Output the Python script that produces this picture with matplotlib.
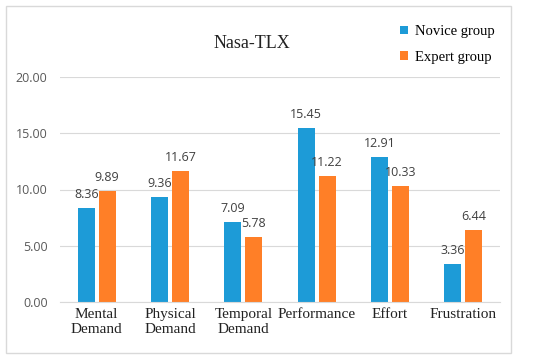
import numpy as np
import matplotlib.pyplot as plt
from matplotlib.patches import Rectangle

categories = ['Mental\nDemand', 'Physical\nDemand', 'Temporal\nDemand',
              'Performance', 'Effort', 'Frustration']
novice = [8.36, 9.36, 7.09, 15.45, 12.91, 3.36]
expert = [9.89, 11.67, 5.78, 11.22, 10.33, 6.44]
yticks = [0, 5, 10, 15, 20]

blue = '#1d9bd7'
orange = '#ff7f27'
serif = 'Liberation Serif'
sans = 'Open Sans'

fig = plt.figure(figsize=(5.5, 3.61), dpi=100)
# outer frame
fig.patches.append(Rectangle((6/550, 1 - 353/361), 505/550, 347/361,
                             transform=fig.transFigure, fill=False,
                             edgecolor='#d9d9d9', linewidth=1))

ax = fig.add_axes([60/550, 1 - 302/361, 440/550, 225/361])
x = np.arange(len(categories))
w = 0.23
gap = 0.055
b1 = ax.bar(x - w/2 - gap/2, novice, w, color=blue, label='Novice group')
b2 = ax.bar(x + w/2 + gap/2, expert, w, color=orange, label='Expert group')

for bars, vals in ((b1, novice), (b2, expert)):
    for r, v in zip(bars, vals):
        ax.text(r.get_x() + r.get_width()/2, v + 0.6, '%.2f' % v,
                ha='center', va='bottom', fontsize=9, color='#404040',
                family=sans)

ax.set_xlim(-0.5, len(categories) - 0.5)
ax.set_ylim(0, 20)
ax.set_yticks(yticks)
ax.set_yticklabels(['%.2f' % t for t in yticks], family=sans, fontsize=9,
                   color='#595959')
ax.set_xticks(x)
ax.set_xticklabels(categories, family=serif, fontsize=11, color='#222222',
                   linespacing=1.25)
ax.tick_params(axis='both', length=0)
ax.tick_params(axis='y', pad=9)
ax.tick_params(axis='x', pad=4)
ax.grid(axis='y', color='#d9d9d9', linewidth=0.8)
ax.set_axisbelow(True)
for s in ['top', 'right', 'left']:
    ax.spines[s].set_visible(False)
ax.spines['bottom'].set_color('#d9d9d9')

fig.text(252/550, 1 - 43/361, 'Nasa-TLX', ha='center', va='center',
         family=serif, fontsize=13, color='#222222')

leg = fig.legend(loc='upper left', bbox_to_anchor=(387/550, 1 - 12/361),
                 frameon=False, prop={'family': serif, 'size': 10.5},
                 handlelength=0.55, handleheight=0.55, handletextpad=0.5,
                 labelspacing=0.85)

fig.savefig('out.png', dpi=100)
